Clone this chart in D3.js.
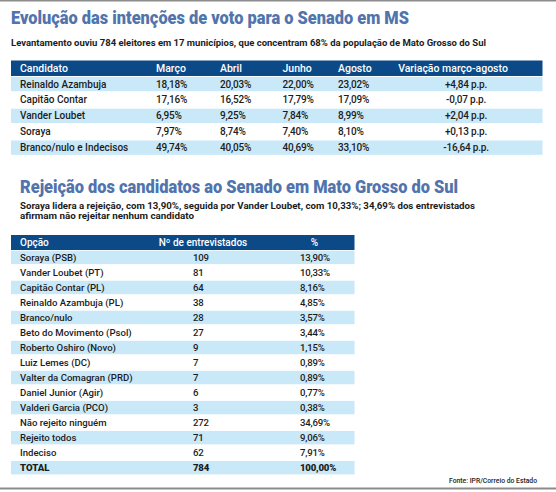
<!DOCTYPE html>
<html>
<head>
<meta charset="utf-8">
<script src="https://cdn.jsdelivr.net/npm/d3@7"></script>
<style>
  body { margin: 0; background: #fff; }
  svg { display: block; font-family: Roboto, "Noto Sans", sans-serif; }
</style>
</head>
<body>
<script>
// Tabela 1: evolução das intenções de voto
const candidatos = ["Reinaldo Azambuja", "Capitão Contar", "Vander Loubet", "Soraya", "Branco/nulo e Indecisos"];
const meses = ["Março", "Abril", "Junho", "Agosto"];
const marco = [18.18, 17.16, 6.95, 7.97, 49.74];
const abril = [20.03, 16.52, 9.25, 8.74, 40.05];
const junho = [22.00, 17.79, 7.84, 7.40, 40.69];
const agosto = [23.02, 17.09, 8.99, 8.10, 33.10];
const variacao = [4.84, -0.07, 2.04, 0.13, -16.64];

// Tabela 2: rejeição
const opcoes = ["Soraya (PSB)", "Vander Loubet (PT)", "Capitão Contar (PL)", "Reinaldo Azambuja (PL)",
  "Branco/nulo", "Beto do Movimento (Psol)", "Roberto Oshiro (Novo)", "Luiz Lemes (DC)",
  "Valter da Comagran (PRD)", "Daniel Junior (Agir)", "Valderi Garcia (PCO)", "Não rejeito ninguém",
  "Rejeito todos", "Indeciso", "TOTAL"];
const entrevistados = [109, 81, 64, 38, 28, 27, 9, 7, 7, 6, 3, 272, 71, 62, 784];
const percentuais = [13.90, 10.33, 8.16, 4.85, 3.57, 3.44, 1.15, 0.89, 0.89, 0.77, 0.38, 34.69, 9.06, 7.91, 100.00];

const width = 556, height = 492;
const darkBlue = "#0c4a87", lightBlue = "#c9e8f8", titleBlue = "#5174ad", ink = "#1c1c1c";

const br = d3.formatLocale({decimal: ",", thousands: ".", grouping: [3], currency: ["R$", ""], minus: "-"});
const pct = br.format(".2f");
const pp = br.format("+.2f");

const svg = d3.select("body").append("svg")
    .attr("width", width)
    .attr("height", height);

// filetes cinza
svg.append("line").attr("x1", 0).attr("x2", width).attr("y1", 0.8).attr("y2", 0.8)
    .attr("stroke", "#8c8c8c").attr("stroke-width", 1.6);
svg.append("line").attr("x1", 0).attr("x2", width).attr("y1", 488.5).attr("y2", 488.5)
    .attr("stroke", "#8c8c8c").attr("stroke-width", 2);

function title(text, x, y, len) {
  svg.append("text")
      .attr("x", x).attr("y", y)
      .attr("font-size", 17.5).attr("font-weight", 900)
      .attr("fill", titleBlue)
      .attr("textLength", len).attr("lengthAdjust", "spacingAndGlyphs")
      .text(text);
}

function subtitle(text, x, y, len) {
  svg.append("text")
      .attr("x", x).attr("y", y)
      .attr("font-size", 9).attr("font-weight", 700)
      .attr("fill", ink)
      .attr("textLength", len).attr("lengthAdjust", "spacingAndGlyphs")
      .text(text);
}

// ---- Tabela 1 ----
title("Evolução das intenções de voto para o Senado em MS", 11, 24, 398);
subtitle("Levantamento ouviu 784 eleitores em 17 municípios, que concentram 68% da população de Mato Grosso do Sul", 11, 46, 475);

const t1 = {left: 11, right: 542.5, headTop: 60.5, headH: 15.5};
const y1 = d3.scaleBand()
    .domain(candidatos)
    .range([76.5, 76.5 + 15.9 * candidatos.length])
    .paddingInner(0);

const col1 = d3.scaleOrdinal()
    .domain(["Candidato", ...meses])
    .range([20, 156, 220, 282.5, 338]);

svg.append("rect")
    .attr("x", t1.left).attr("y", t1.headTop)
    .attr("width", t1.right - t1.left).attr("height", t1.headH)
    .attr("fill", darkBlue);

const head1 = svg.append("g")
    .attr("fill", "#fff").attr("font-size", 10.5).attr("font-weight", 500);
head1.selectAll("text.col")
  .data(["Candidato", ...meses])
  .join("text")
    .attr("class", "col")
    .attr("x", d => col1(d))
    .attr("y", t1.headTop + 11.3)
    .text(d => d);
head1.append("text")
    .attr("x", 453).attr("y", t1.headTop + 11.3)
    .attr("text-anchor", "middle")
    .text("Variação março-agosto");

const rows1 = svg.append("g").selectAll("g")
  .data(candidatos.map((c, i) => ({c, i, vals: [marco[i], abril[i], junho[i], agosto[i]], v: variacao[i]})))
  .join("g")
    .attr("transform", d => `translate(0,${y1(d.c)})`);

rows1.filter(d => d.i % 2 === 0).append("rect")
    .attr("x", t1.left).attr("y", 0.4)
    .attr("width", t1.right - t1.left).attr("height", y1.bandwidth() - 1.6)
    .attr("fill", lightBlue);

rows1.append("text")
    .attr("x", col1("Candidato")).attr("y", 11)
    .attr("font-size", 10).attr("font-weight", 500).attr("fill", ink)
    .text(d => d.c);

rows1.selectAll("text.val")
  .data(d => d.vals.map((v, j) => ({m: meses[j], v})))
  .join("text")
    .attr("class", "val")
    .attr("x", d => col1(d.m)).attr("y", 11)
    .attr("font-size", 10).attr("font-weight", 500).attr("fill", ink)
    .attr("letter-spacing", -0.2)
    .text(d => pct(d.v) + "%");

rows1.append("text")
    .attr("x", 466).attr("y", 11)
    .attr("text-anchor", "middle")
    .attr("font-size", 10).attr("font-weight", 500).attr("fill", ink)
    .attr("letter-spacing", -0.2)
    .text(d => pp(d.v) + " p.p.");

// ---- Tabela 2 ----
title("Rejeição dos candidatos ao Senado em Mato Grosso do Sul", 20, 193, 438);
subtitle("Soraya lidera a rejeição, com 13,90%, seguida por Vander Loubet, com 10,33%; 34,69% dos entrevistados", 20, 209, 455);
subtitle("afirmam não rejeitar nenhum candidato", 20, 219, 174);

const t2 = {left: 11, right: 354.5, headTop: 235, headH: 15};
const y2 = d3.scaleBand()
    .domain(opcoes)
    .range([250.4, 250.4 + 15.02 * opcoes.length])
    .paddingInner(0);

svg.append("rect")
    .attr("x", t2.left).attr("y", t2.headTop)
    .attr("width", t2.right - t2.left).attr("height", t2.headH)
    .attr("fill", darkBlue);

const head2 = svg.append("g")
    .attr("fill", "#fff").attr("font-size", 10).attr("font-weight", 500);
head2.append("text").attr("x", 20).attr("y", t2.headTop + 10.8).text("Opção");
head2.append("text").attr("x", 203).attr("y", t2.headTop + 10.8)
    .attr("text-anchor", "middle").text("Nº de entrevistados");
head2.append("text").attr("x", 314.5).attr("y", t2.headTop + 10.8)
    .attr("text-anchor", "middle").text("%");

const rows2 = svg.append("g").selectAll("g")
  .data(opcoes.map((o, i) => ({o, i, n: entrevistados[i], p: percentuais[i]})))
  .join("g")
    .attr("transform", d => `translate(0,${y2(d.o)})`)
    .attr("font-size", 9.6)
    .attr("font-weight", d => d.o === "TOTAL" ? 900 : 500)
    .attr("fill", ink);

rows2.filter(d => d.i % 2 === 0).append("rect")
    .attr("x", t2.left).attr("y", 0.3)
    .attr("width", t2.right - t2.left).attr("height", y2.bandwidth() - 1.6)
    .attr("fill", lightBlue);

rows2.append("text")
    .attr("x", 20).attr("y", 10.4)
    .text(d => d.o);

rows2.append("text")
    .attr("x", 193).attr("y", 10.4)
    .attr("letter-spacing", -0.2)
    .text(d => br.format("d")(d.n));

rows2.append("text")
    .attr("x", 300).attr("y", 10.4)
    .attr("letter-spacing", -0.2)
    .text(d => pct(d.p) + "%");

// fonte
svg.append("text")
    .attr("x", 537).attr("y", 483)
    .attr("text-anchor", "end")
    .attr("font-size", 7).attr("font-weight", 500)
    .attr("fill", ink)
    .attr("textLength", 88).attr("lengthAdjust", "spacingAndGlyphs")
    .text("Fonte: IPR/Correio do Estado");
</script>
</body>
</html>
